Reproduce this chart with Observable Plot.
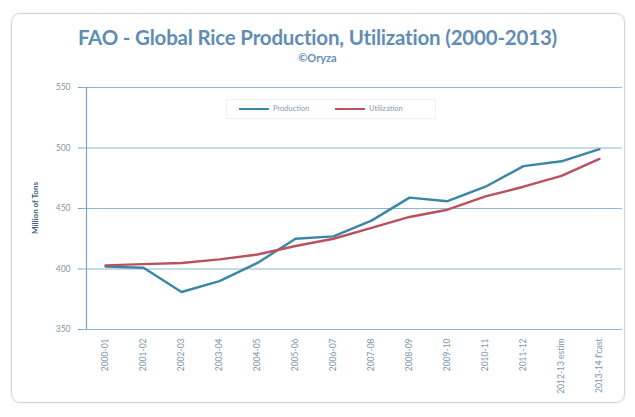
<!DOCTYPE html>
<html>
<head>
<meta charset="utf-8">
<script src="https://cdn.jsdelivr.net/npm/d3@7"></script>
<script src="https://cdn.jsdelivr.net/npm/@observablehq/plot@0.6"></script>
<style>
  html, body { margin: 0; padding: 0; background: #fff; }
  #wrap { position: relative; width: 635px; height: 417px; overflow: hidden; font-family: Lato, "Open Sans", sans-serif; }
  #frame { position: absolute; left: 11px; top: 13px; width: 612px; height: 388px; border: 1px solid #d4d4d4; border-radius: 9px; box-shadow: 0 0 2px #e6e6e6; }
  #title { position: absolute; left: 0; width: 635px; top: 25px; text-align: center; font-weight: bold; font-size: 20.5px; color: #5f8db3; letter-spacing: -0.2px; }
  #sub { position: absolute; left: 0; width: 635px; top: 51px; text-align: center; font-weight: bold; font-size: 11px; color: #5f8db3; }
  #chart { position: absolute; left: 0; top: 70px; }
  #ylab { position: absolute; left: 35px; top: 208px; transform: translate(-50%, -50%) rotate(-90deg); font-size: 8px; font-weight: bold; color: #3e5f7e; white-space: nowrap; }
  #legend { position: absolute; left: 226px; top: 99px; width: 208px; height: 18px; border: 1px solid #eef2f6; font-size: 7.5px; color: #8a9aab; }
  .li { position: absolute; top: 4px; display: flex; align-items: center; }
  .sw { width: 30px; height: 0; border-top: 2px solid; margin-right: 4px; }
</style>
</head>
<body>
<div id="wrap">
  <div id="frame"></div>
  <div id="title">FAO - Global Rice Production, Utilization (2000-2013)</div>
  <div id="sub">©Oryza</div>
  <div id="chart"></div>
  <div id="ylab">Million of Tons</div>
  <div id="legend">
    <div class="li" style="left:12px"><div class="sw" style="border-color:#3a86a6"></div>Production</div>
    <div class="li" style="left:108px"><div class="sw" style="border-color:#b9525c"></div>Utilization</div>
  </div>
</div>
<script>
const years = ["2000-01","2001-02","2002-03","2003-04","2004-05","2005-06","2006-07","2007-08","2008-09","2009-10","2010-11","2011-12","2012-13 estim","2013-14 f'cast"];
const production = [402, 401, 381, 390, 405, 425, 427, 440, 459, 456, 468, 485, 489, 499];
const utilization = [403, 404, 405, 408, 412, 419, 425, 434, 443, 449, 460, 468, 477, 491];
const yTicks = [350, 400, 450, 500, 550];

const rows = [];
years.forEach((y, i) => {
  rows.push({year: y, series: "Production", value: production[i]});
  rows.push({year: y, series: "Utilization", value: utilization[i]});
});

const chart = Plot.plot({
  width: 635,
  height: 330,
  marginLeft: 82,
  marginRight: 13,
  marginTop: 17,
  marginBottom: 71,
  style: {background: "transparent", fontFamily: "Lato, 'Open Sans', sans-serif"},
  x: {type: "point", domain: years, padding: 0.5},
  y: {domain: [350, 550]},
  color: {domain: ["Production", "Utilization"], range: ["#3a86a6", "#b9525c"]},
  marks: [
    Plot.ruleY(yTicks, {stroke: "#8fb6d1", strokeWidth: 1.2}),
    Plot.ruleX([years[0]], {y1: 350, y2: 550, stroke: "#7f9fbd", strokeWidth: 1.2, dx: -19}),
    Plot.axisY({ticks: yTicks, tickSize: 4, tickPadding: 8, fontSize: 8.5, color: "#8395a8", label: null, stroke: "#7f9fbd"}),
    Plot.axisX({tickSize: 0, tickRotate: -90, tickPadding: 9, fontSize: 8.5, color: "#7b95ad", label: null}),
    Plot.line(rows, {x: "year", y: "value", z: "series", stroke: "series", strokeWidth: 2.4, curve: "linear"})
  ]
});
document.getElementById("chart").appendChild(chart);
</script>
</body>
</html>
